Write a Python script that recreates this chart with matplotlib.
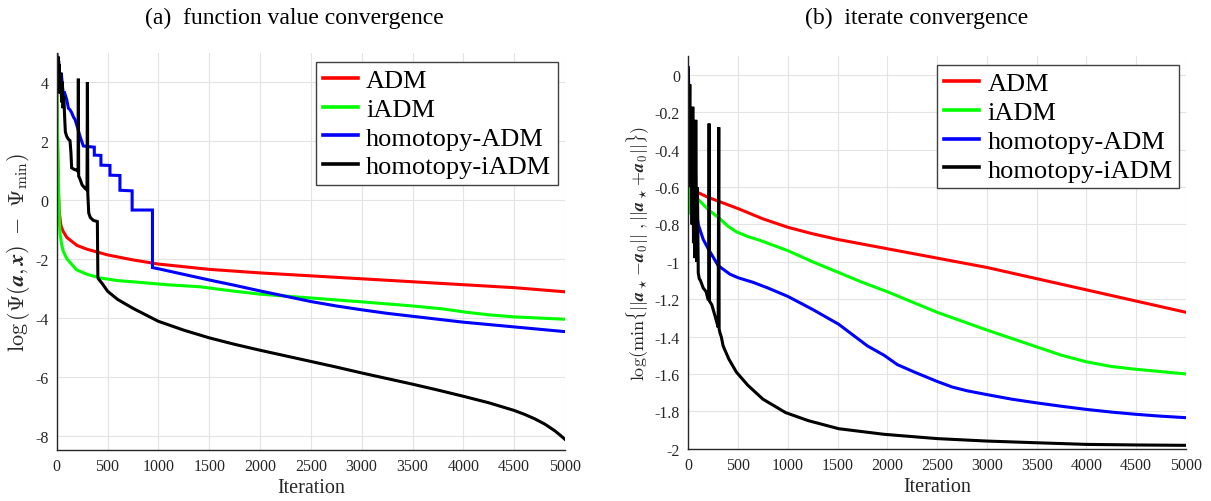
import matplotlib
matplotlib.use("Agg")
import matplotlib.pyplot as plt

plt.rcParams['mathtext.fontset'] = 'cm'
plt.rcParams['axes.unicode_minus'] = False
plt.rcParams['font.family'] = ['Liberation Serif', 'DejaVu Serif']

labels = ['ADM', 'iADM', 'homotopy-ADM', 'homotopy-iADM']
colors = ['#ff0000', '#00ff00', '#0000ff', '#000000']

# ---------- (a) function value convergence ----------
a_adm_x = [0, 8, 15, 25, 40, 60, 100, 200, 300, 500, 750, 1000, 1500, 2000, 2500, 3000, 3500, 4000, 4500, 5000]
a_adm_y = [4.05, 2.0, 0.5, -0.4, -0.85, -1.05, -1.28, -1.55, -1.68, -1.87, -2.04, -2.18, -2.36, -2.48, -2.58, -2.68, -2.78, -2.88, -2.98, -3.12]

a_iadm_x = [0, 5, 10, 16, 22, 26, 35, 50, 65, 100, 150, 197, 300, 426, 600, 917, 1081, 1410, 1700, 2000, 2500, 3000, 3500, 3800, 4000, 4250, 4500, 5000]
a_iadm_y = [4.1, 3.0, 1.8, 0.6, -0.2, -0.73, -1.2, -1.55, -1.75, -2.0, -2.2, -2.38, -2.53, -2.65, -2.74, -2.83, -2.88, -2.95, -3.08, -3.2, -3.33, -3.46, -3.6, -3.7, -3.8, -3.9, -3.97, -4.05]

a_hadm_x = [0, 10, 20, 30, 45, 65, 80, 98, 115, 130, 147, 165, 180, 200, 229, 262, 311, 370, 370, 435, 435, 524, 524, 622, 622, 742, 742, 942, 942,
            1000, 1250, 1500, 1750, 2000, 2250, 2500, 2750, 3000, 3250, 3500, 3750, 4000, 4250, 4500, 4750, 5000]
a_hadm_y = [4.95, 4.5, 4.7, 4.1, 4.3, 3.55, 3.6, 3.4, 3.1, 3.05, 2.95, 2.8, 2.72, 2.5, 2.15, 1.82, 1.8, 1.78, 1.51, 1.5, 1.17, 1.16, 0.83, 0.82, 0.32, 0.3, -0.35, -0.35, -2.3,
            -2.34, -2.53, -2.72, -2.9, -3.09, -3.27, -3.45, -3.6, -3.73, -3.85, -3.95, -4.05, -4.15, -4.23, -4.31, -4.39, -4.47]

a_hiadm_x = [0, 8, 14, 20, 26, 32, 40, 48, 55, 62, 70, 78, 85, 98, 115, 131, 140, 147, 170, 197, 210, 213, 216, 229, 250, 280, 298, 302, 306, 315,
             330, 360, 400, 405, 410, 450, 500, 600, 750, 1000, 1250, 1500, 1750, 2000, 2250, 2500, 2750, 3000, 3250, 3500, 3750, 4000, 4250, 4500,
             4600, 4700, 4800, 4900, 4950, 5000]
a_hiadm_y = [4.95, 4.2, 4.85, 3.9, 4.6, 3.6, 4.3, 3.3, 4.0, 3.1, 3.5, 2.8, 2.3, 2.15, 2.05, 2.0, 1.6, 1.08, 1.03, 1.0, 0.95, 4.1, 0.8, 0.7, 0.5, 0.38, 0.33, 3.98, 0.2, -0.45,
             -0.6, -0.7, -0.74, -2.62, -2.68, -2.85, -3.1, -3.38, -3.68, -4.12, -4.42, -4.68, -4.9, -5.1, -5.29, -5.48, -5.67, -5.87, -6.06, -6.25, -6.45, -6.66, -6.88, -7.14,
             -7.27, -7.42, -7.6, -7.83, -7.97, -8.12]

# ---------- (b) iterate convergence ----------
b_adm_x = [20, 30, 100, 200, 300, 500, 750, 1000, 1250, 1500, 1750, 2000, 2250, 2500, 3000, 3500, 4000, 4500, 5000]
b_adm_y = [-0.62, -0.60, -0.63, -0.655, -0.675, -0.715, -0.77, -0.815, -0.85, -0.88, -0.905, -0.93, -0.955, -0.98, -1.03, -1.09, -1.15, -1.21, -1.27]

b_iadm_x = [0, 5, 10, 17, 60, 117, 200, 318, 400, 486, 600, 720, 1000, 1250, 1500, 1750, 2000, 2500, 3000, 3500, 3750, 4000, 4250, 4500, 5000]
b_iadm_y = [-0.74, -0.60, -0.72, -0.63, -0.65, -0.675, -0.72, -0.77, -0.81, -0.84, -0.865, -0.885, -0.94, -1.0, -1.055, -1.11, -1.16, -1.27, -1.365, -1.455, -1.5, -1.535, -1.56, -1.575, -1.6]

b_hadm_x = [0, 10, 30, 60, 100, 150, 200, 300, 418, 500, 653, 800, 1000, 1250, 1511, 1650, 1800, 1967, 2100, 2272, 2500, 2652, 2800, 2995, 3250, 3489, 3750, 4003, 4250, 4498, 4750, 5000]
b_hadm_y = [0.03, -0.2, -0.45, -0.65, -0.8, -0.88, -0.93, -1.02, -1.066, -1.085, -1.11, -1.14, -1.185, -1.255, -1.334, -1.39, -1.45, -1.5, -1.55, -1.59, -1.64, -1.67, -1.69, -1.71, -1.735, -1.754, -1.773, -1.79, -1.804, -1.816, -1.826, -1.834]

b_hiadm_x = [0, 8, 15, 22, 30, 38, 45, 52, 60, 67, 75, 85, 92, 100, 110, 122, 150, 179, 198, 205, 209, 213, 236, 274, 300, 306, 310, 318,
             331, 350, 407, 483, 597, 750, 978, 1206, 1511, 1967, 2500, 2995, 3489, 4003, 4498, 5000]
b_hiadm_y = [0.04, -0.4, -0.05, -0.6, -0.3, -0.8, -0.17, -0.9, -0.45, -0.98, -0.24, -1.0, -0.6, -1.06, -1.09, -1.10, -1.14, -1.16, -1.2, -1.2, -0.26, -1.21, -1.23, -1.30, -1.35, -0.28, -1.36, -1.38,
             -1.40, -1.45, -1.52, -1.59, -1.66, -1.735, -1.807, -1.85, -1.893, -1.923, -1.946, -1.959, -1.968, -1.977, -1.98, -1.982]

xticks = [0, 500, 1000, 1500, 2000, 2500, 3000, 3500, 4000, 4500, 5000]
a_yticks = [-8, -6, -4, -2, 0, 2, 4]
b_yticks = [-2, -1.8, -1.6, -1.4, -1.2, -1, -0.8, -0.6, -0.4, -0.2, 0]

W, H = 1211, 502
fig = plt.figure(figsize=(W / 100, H / 100), dpi=100)

def pos(l, t, r, b):
    return [l / W, 1 - b / H, (r - l) / W, (b - t) / H]

ax1 = fig.add_axes(pos(56.7, 54, 565, 450.7))
ax2 = fig.add_axes(pos(688.3, 57.3, 1186, 449.7))

series_a = [(a_adm_x, a_adm_y), (a_iadm_x, a_iadm_y), (a_hadm_x, a_hadm_y), (a_hiadm_x, a_hiadm_y)]
series_b = [(b_adm_x, b_adm_y), (b_iadm_x, b_iadm_y), (b_hadm_x, b_hadm_y), (b_hiadm_x, b_hiadm_y)]

for ax, series in ((ax1, series_a), (ax2, series_b)):
    for (x, y), c, lab in zip(series, colors, labels):
        ax.plot(x, y, color=c, lw=2.2, label=lab, solid_joinstyle='miter')
    ax.set_xlim(0, 5000)
    ax.set_xticks(xticks)
    ax.set_xticklabels([str(v) for v in xticks])
    ax.grid(True, color='#e3e3e3', lw=0.8)
    ax.set_axisbelow(True)
    for s in ('top', 'right'):
        ax.spines[s].set_visible(False)
    for s in ('left', 'bottom'):
        ax.spines[s].set_color('#262626')
        ax.spines[s].set_linewidth(1.0)
    ax.tick_params(length=0, labelsize=11.5, colors='#262626', pad=6)
    ax.set_xlabel('Iteration', fontsize=14.5, color='#262626', labelpad=3)
    leg = ax.legend(loc='upper right', bbox_to_anchor=(0.986, 0.977), fontsize=19,
                    handlelength=1.35, handletextpad=0.3, borderpad=0.25, labelspacing=0.2,
                    fancybox=False, framealpha=1, edgecolor='#404040', borderaxespad=0)
    leg.get_frame().set_linewidth(1.0)
    for ln in leg.get_lines():
        ln.set_linewidth(2.6)

ax1.set_ylim(-8.47, 4.97)
ax1.set_yticks(a_yticks)
ax1.set_yticklabels([str(v) for v in a_yticks])
ax1.set_ylabel(r'$\log\left(\Psi(\mathbfit{a},\mathbfit{x})\ -\ \Psi_{\min}\right)$', fontsize=16, color='#262626', labelpad=2)

ax2.set_ylim(-2, 0.1)
ax2.set_yticks(b_yticks)
ax2.set_yticklabels(['-2', '-1.8', '-1.6', '-1.4', '-1.2', '-1', '-0.8', '-0.6', '-0.4', '-0.2', '0'])
ax2.set_ylabel(r'$\log(\min\{||\mathbfit{a}_\star\!-\!\mathbfit{a}_0||\ ,||\mathbfit{a}_\star\!+\!\mathbfit{a}_0||\})$', fontsize=13, color='#262626', labelpad=3)

fig.text(294 / W, 1 - 18 / H, '(a)  function value convergence', ha='center', va='center', fontsize=17)
fig.text(917 / W, 1 - 18 / H, '(b)  iterate convergence', ha='center', va='center', fontsize=17)

fig.savefig('out.png', dpi=100)
